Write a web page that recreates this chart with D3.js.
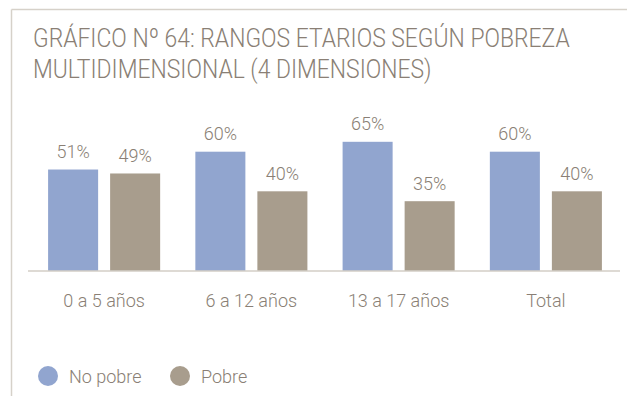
<!DOCTYPE html>
<html>
<head>
<meta charset="utf-8">
<script src="https://cdn.jsdelivr.net/npm/d3@7"></script>
<style>
  html, body { margin: 0; padding: 0; background: #ffffff; }
  svg { display: block; font-family: "Roboto Light", Roboto, "Open Sans", sans-serif; font-weight: 300; }
</style>
</head>
<body>
<svg id="chart" width="627" height="396"></svg>
<script>
// Age groups and the share of each poverty status within them
const categories = ["0 a 5 años", "6 a 12 años", "13 a 17 años", "Total"];
const seriesNames = ["No pobre", "Pobre"];
const noPobre = [51, 60, 65, 60];
const pobre = [49, 40, 35, 40];
const seriesColors = ["#91a5cf", "#a89d8d"];

const titleLines = [
  "GRÁFICO Nº 64: RANGOS ETARIOS SEGÚN POBREZA",
  "MULTIDIMENSIONAL (4 DIMENSIONES)"
];

const svg = d3.select("#chart");
const textColor = "#8a7f75";
const frameColor = "#d6d1c9";

// Panel frame: top and left rules
svg.append("line").attr("x1", 11.5).attr("x2", 627).attr("y1", 9.5).attr("y2", 9.5)
  .attr("stroke", frameColor).attr("stroke-width", 1.5);
svg.append("line").attr("x1", 11.5).attr("x2", 11.5).attr("y1", 9.5).attr("y2", 396)
  .attr("stroke", frameColor).attr("stroke-width", 1.5);

// Title: tall, narrow capitals — set the size by height, then squeeze to the panel width
const titleG = svg.append("g").attr("transform", "translate(33,0)");
const titleText = titleG.selectAll("text").data(titleLines).join("text")
  .attr("x", 0).attr("y", (d, i) => 47 + i * 31)
  .attr("fill", textColor).attr("font-size", 26)
  .text(d => d);
const firstWidth = titleText.node().getComputedTextLength();
const squeeze = 537 / firstWidth;
titleText.attr("transform", `scale(${squeeze},1)`);

const baseY = 270.5;
const x0 = d3.scaleBand().domain(categories).range([30.5, 619.5])
  .paddingInner(0.239).paddingOuter(0.1195);
const x1 = d3.scaleBand().domain(seriesNames).range([0, x0.bandwidth()]).paddingInner(0.1935);
const y = d3.scaleLinear().domain([0, 100]).range([baseY, baseY - 198]);

const rows = categories.map((c, i) => ({ cat: c, vals: [noPobre[i], pobre[i]] }));

const groups = svg.append("g").selectAll("g").data(rows).join("g")
  .attr("transform", d => `translate(${x0(d.cat)},0)`);

const cells = groups.selectAll("g").data(d => d.vals.map((v, j) => ({ name: seriesNames[j], v, j })))
  .join("g");

cells.append("rect")
  .attr("x", d => x1(d.name))
  .attr("width", x1.bandwidth())
  .attr("y", d => y(d.v))
  .attr("height", d => y(0) - y(d.v))
  .attr("fill", d => seriesColors[d.j]);

cells.append("text")
  .attr("x", d => x1(d.name) + x1.bandwidth() / 2)
  .attr("y", d => y(d.v) - 11.5)
  .attr("text-anchor", "middle")
  .attr("fill", textColor).attr("font-size", 18)
  .text(d => d.v + "%");

// Baseline and category axis
svg.append("line").attr("x1", 28).attr("x2", 620).attr("y1", baseY + 0.5).attr("y2", baseY + 0.5)
  .attr("stroke", "#bdb5aa").attr("stroke-width", 1.2);

const xAxis = svg.append("g").attr("transform", `translate(0,${baseY})`)
  .call(d3.axisBottom(x0).tickSize(0).tickPadding(36));
xAxis.select(".domain").remove();
xAxis.selectAll("text").attr("fill", textColor).attr("font-size", 18)
  .attr("font-family", "'Roboto Light', Roboto, sans-serif").attr("font-weight", 300).attr("dy", 0);

// Legend
const legendX = [48, 180];
const legend = svg.append("g").selectAll("g").data(seriesNames).join("g")
  .attr("transform", (d, i) => `translate(${legendX[i]},376)`);
legend.append("circle").attr("r", 10).attr("fill", (d, i) => seriesColors[i]);
legend.append("text").attr("x", 21).attr("y", 7)
  .attr("fill", textColor).attr("font-size", 18).text(d => d);
</script>
</body>
</html>
